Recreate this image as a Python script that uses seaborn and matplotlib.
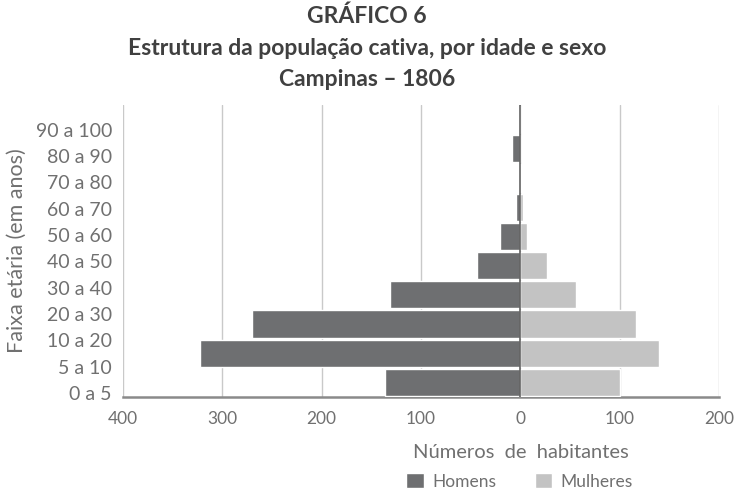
import numpy as np
import pandas as pd
import seaborn as sns
import matplotlib.pyplot as plt
from matplotlib.ticker import FuncFormatter

# faixas etarias (rotulos do eixo, de baixo para cima)
faixas = ["0 a 5", "5 a 10", "10 a 20", "20 a 30", "30 a 40", "40 a 50",
          "50 a 60", "60 a 70", "70 a 80", "80 a 90", "90 a 100"]

# barras do grafico original (10 barras, de baixo para cima)
linhas = ["l01", "l02", "l03", "l04", "l05", "l06", "l07", "l08", "l09", "l10"]
homens = [136, 323, 270, 131, 44, 20, 4, 1, 8, 1]
mulheres = [100, 140, 116, 56, 27, 7, 3, 1, 0, 0]

cor_homens = "#6e6f71"
cor_mulheres = "#c3c3c3"
cinza_texto = "#707070"

df = pd.DataFrame({
    "linha": linhas * 2,
    "valor": [-v for v in homens] + mulheres,
    "sexo": ["Homens"] * len(linhas) + ["Mulheres"] * len(linhas),
})

sns.set_style("white")
plt.rcParams["font.family"] = ["Lato", "DejaVu Sans"]

fig = plt.figure(figsize=(7.34, 4.92), dpi=100)
ax = fig.add_axes([0.1676, 0.1931, 0.812, 0.5935])

sns.barplot(data=df, x="valor", y="linha", hue="sexo", order=linhas[::-1],
            palette={"Homens": cor_homens, "Mulheres": cor_mulheres},
            dodge=False, width=0.93, orient="h", ax=ax, zorder=3)

handles, labels = ax.get_legend_handles_labels()
ax.get_legend().remove()

ax.set_xlim(-400, 200)
ax.set_ylim(len(linhas) - 0.5, -0.5)
ax.set_xticks(np.arange(-400, 201, 100))
ax.xaxis.set_major_formatter(FuncFormatter(lambda v, p: f"{abs(int(v))}"))
ax.grid(axis="x", color="#c9c9c9", lw=1, zorder=0)
ax.axvline(0, color="#555555", lw=1.1, zorder=4)

# rotulos deslocados como no original
ax.set_yticks(np.linspace(len(linhas) - 0.64, 0.35, len(faixas)), faixas)

for s in ["top", "right", "left"]:
    ax.spines[s].set_visible(False)
ax.spines["bottom"].set_color("#8a8a8a")
ax.spines["bottom"].set_linewidth(1.8)

ax.tick_params(axis="x", length=0, labelsize=12.5, labelcolor=cinza_texto, pad=10)
ax.tick_params(axis="y", length=0, labelsize=14, labelcolor=cinza_texto, pad=8)

ax.set_ylabel("Faixa etária (em anos)", fontsize=15.5, color=cinza_texto, labelpad=6)
ax.set_xlabel("")
fig.text(0.71, 0.081, "Números  de  habitantes", ha="center", va="center",
         fontsize=14.5, color=cinza_texto)

fig.legend(handles, labels, loc="center", bbox_to_anchor=(0.708, 0.022), ncol=2,
           frameon=False, fontsize=12.5, handlelength=1.0, handleheight=1.0,
           handletextpad=0.5, columnspacing=2.2, labelcolor=cinza_texto)

fig.text(0.5, 0.966, "GRÁFICO 6", ha="center", va="center", fontsize=16.5,
         fontweight="bold", color="#404040")
fig.text(0.5, 0.901, "Estrutura da população cativa, por idade e sexo", ha="center",
         va="center", fontsize=16.5, fontweight="bold", color="#404040")
fig.text(0.5, 0.838, "Campinas – 1806", ha="center", va="center", fontsize=16.5,
         fontweight="bold", color="#404040")

fig.savefig("out.png", dpi=100)
